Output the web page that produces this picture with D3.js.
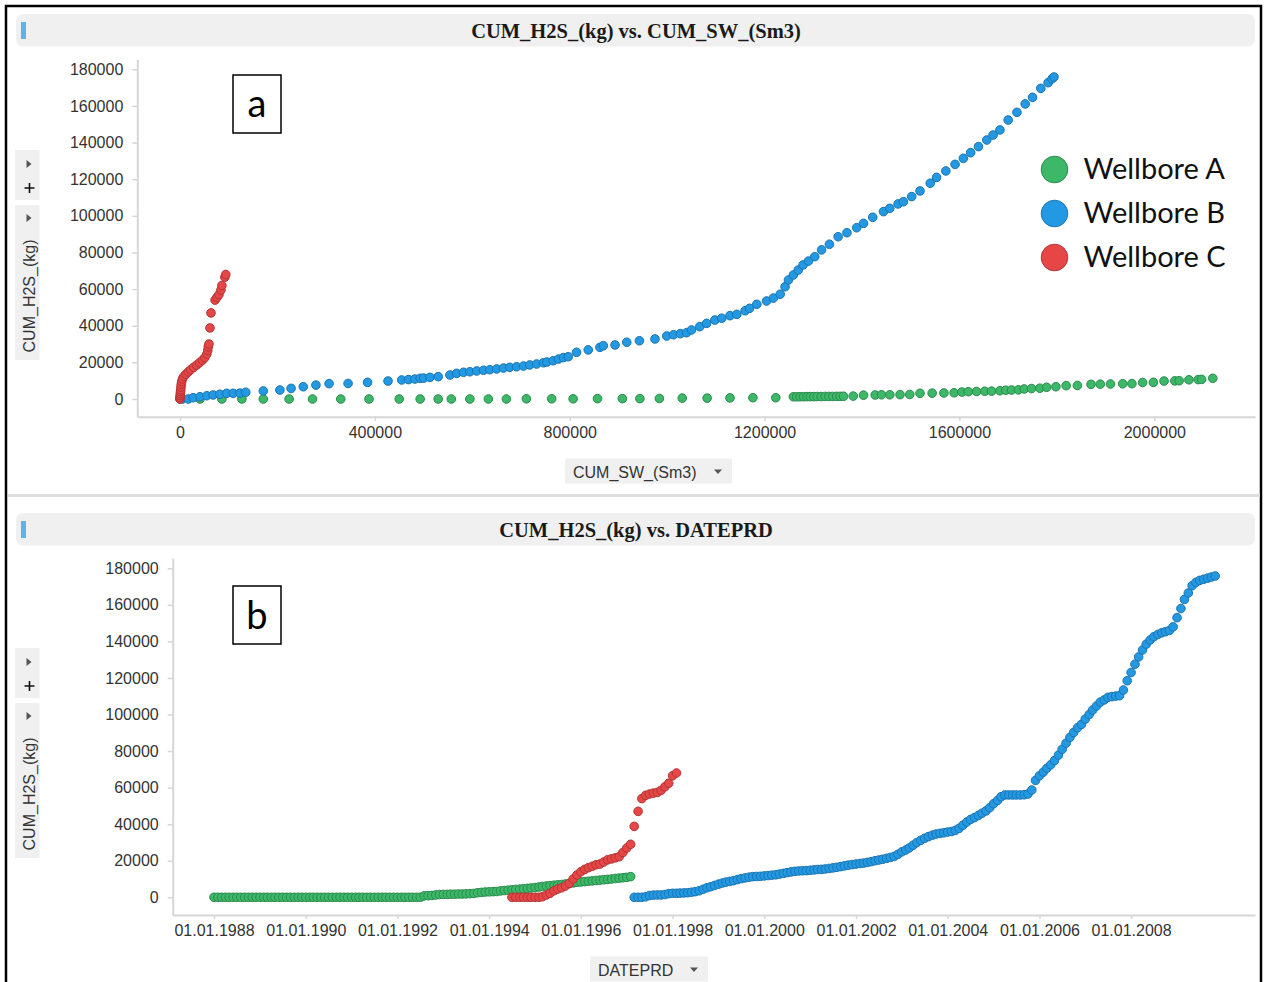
<!DOCTYPE html>
<html>
<head>
<meta charset="utf-8">
<script src="https://cdn.jsdelivr.net/npm/d3@7"></script>
<style>
  html, body { margin: 0; padding: 0; background: #fff; }
  svg { display: block; }
</style>
</head>
<body>
<svg id="chart" width="1264" height="982"></svg>
<script>
// ---- data ----
const wellbores = ['Wellbore A', 'Wellbore B', 'Wellbore C'];
const fills = ['#3cb868', '#2399e3', '#e64646'];
const strokes = ['#2b8a4d', '#1b74b0', '#b23535'];

const title1 = 'CUM_H2S_(kg) vs. CUM_SW_(Sm3)';
const title2 = 'CUM_H2S_(kg) vs. DATEPRD';
const yLabel = 'CUM_H2S_(kg)';
const xLabel1 = 'CUM_SW_(Sm3)';
const xLabel2 = 'DATEPRD';

const yTicks = [0, 20000, 40000, 60000, 80000, 100000, 120000, 140000, 160000, 180000];
const swTicks = [0, 400000, 800000, 1200000, 1600000, 2000000];
const dateTicks = ['1988-01-01', '1990-01-01', '1992-01-01', '1994-01-01', '1996-01-01',
                   '1998-01-01', '2000-01-01', '2002-01-01', '2004-01-01', '2006-01-01', '2008-01-01'];

// panel a: [CUM_SW (Sm3), CUM_H2S (kg)]
const swH2sA = [
  [0, 0], [41000, 0], [86000, 0], [127000, 0], [171000, 0], [224000, 0], [272000, 0], [330000, 0],
  [388000, 0], [450000, 0], [493000, 0], [530000, 0], [557000, 0], [595000, 0], [633000, 0],
  [670000, 0], [711000, 100], [763000, 100], [807000, 100], [857000, 200], [908000, 200],
  [944000, 200], [984000, 300], [1031000, 500], [1082000, 500], [1129000, 600], [1176000, 700],
  [1223000, 700], [1259000, 1200], [1266000, 1200], [1273000, 1250], [1280000, 1250],
  [1287000, 1300], [1294000, 1300], [1301000, 1300], [1308000, 1350], [1316000, 1350],
  [1324000, 1400], [1332000, 1400], [1340000, 1400], [1348000, 1450], [1355000, 1450],
  [1362000, 1500], [1382000, 1600], [1403000, 2100], [1427000, 2200], [1440000, 2300],
  [1457000, 2300], [1478000, 2400], [1498000, 2500], [1519000, 3100], [1544000, 3200],
  [1568000, 3300], [1589000, 3400], [1605000, 3800], [1618000, 4000], [1635000, 4100],
  [1652000, 4200], [1666000, 4300], [1683000, 4500], [1695000, 4800], [1707000, 4900],
  [1721000, 5000], [1733000, 5500], [1748000, 5700], [1765000, 5900], [1779000, 6400],
  [1798000, 6700], [1819000, 7300], [1842000, 7400], [1870000, 8000], [1889000, 8100],
  [1910000, 8200], [1935000, 8300], [1954000, 8400], [1976000, 9000], [1998000, 9100],
  [2020000, 9800], [2042000, 9900], [2051000, 10000], [2071000, 10500], [2090000, 10600],
  [2097000, 10700], [2120000, 11300]
];
const swH2sB = [
  [5000, 0], [17000, 0], [27000, 700], [41000, 1250], [55000, 1800], [68000, 2200], [82000, 2600],
  [96000, 3100], [109000, 3100], [123000, 3200], [135000, 3700], [171000, 4400], [205000, 4900],
  [228000, 5800], [253000, 6700], [279000, 7600], [306000, 8400], [345000, 8500], [385000, 9100],
  [427000, 9800], [455000, 10400], [469000, 10600], [482000, 10900], [493000, 11300],
  [500000, 11400], [513000, 11800], [530000, 12200], [554000, 13100], [568000, 14000],
  [582000, 14600], [595000, 14900], [609000, 15300], [623000, 15700], [636000, 16000],
  [650000, 16400], [664000, 16900], [677000, 17300], [691000, 17600], [705000, 18000],
  [718000, 18600], [732000, 19100], [746000, 19800], [753000, 20200], [766000, 20900],
  [777000, 21800], [787000, 22600], [797000, 23100], [814000, 25500], [838000, 26800],
  [862000, 28200], [869000, 29100], [893000, 29500], [917000, 31000], [943000, 31800],
  [975000, 32800], [999000, 34400], [1013000, 35100], [1027000, 35700], [1040000, 36200],
  [1050000, 37700], [1067000, 39500], [1081000, 41300], [1098000, 43100], [1112000, 44100],
  [1129000, 45500], [1143000, 46200], [1160000, 48200], [1169000, 49500], [1184000, 51700],
  [1204000, 53500], [1218000, 55100], [1232000, 57200], [1242000, 61300], [1249000, 65000],
  [1259000, 67700], [1269000, 70400], [1279000, 73200], [1290000, 75300], [1303000, 77700],
  [1317000, 81400], [1333000, 84500], [1351000, 88600], [1369000, 90800], [1389000, 93500],
  [1403000, 95900], [1422000, 99200], [1444000, 102300], [1457000, 104100], [1474000, 106500],
  [1485000, 107700], [1502000, 110500], [1519000, 113600], [1540000, 117800], [1553000, 121000],
  [1572000, 124500], [1591000, 128100], [1608000, 131400], [1623000, 134500], [1639000, 137800],
  [1656000, 141400], [1669000, 144100], [1683000, 146900], [1700000, 152300], [1718000, 156500],
  [1735000, 161100], [1750000, 164700], [1767000, 169600], [1782000, 172700], [1790000, 174800],
  [1794000, 175800]
];
const swH2sC = [
  [0, 0], [0, 1000], [500, 2000], [800, 3000], [1000, 4000], [1500, 5000], [2000, 6500],
  [2500, 8000], [3500, 9500], [5000, 11000], [8000, 12300], [12000, 13500], [17000, 14800],
  [22000, 16000], [28000, 17300], [34000, 18500], [40000, 19800], [46000, 21200], [51000, 22600],
  [55000, 24500], [57000, 26500], [58000, 28500], [59500, 30000], [61500, 38800], [63600, 47000],
  [72000, 54000], [76000, 55500], [80000, 57000], [84000, 59500], [86000, 62000], [92000, 66500],
  [94000, 68000]
];

// panel b: monthly CUM_H2S (kg), first month given, one value per month
const firstMonthA = '1988-01-01';
const h2sMonthlyA = [
  0, 0, 0, 0, 0, 0, 0, 0, 0, 0, 0, 0,
  0, 0, 0, 0, 0, 0, 0, 0, 0, 0, 0, 0,
  0, 0, 0, 0, 0, 0, 0, 0, 0, 0, 0, 0,
  0, 0, 0, 0, 0, 0, 0, 0, 0, 0, 0, 0,
  0, 0, 0, 0, 0, 0, 0, 800, 900, 1000, 1300, 1500,
  1600, 1600, 1700, 1700, 1800, 1800, 1900, 2000, 2100, 2500, 2700, 2900,
  3000, 3100, 3200, 3500, 3700, 3900, 4100, 4300, 4500, 4700, 4900, 5100,
  5300, 5600, 5900, 6200, 6400, 6600, 6800, 7000, 7300, 7600, 7900, 8200,
  8400, 8600, 8800, 9000, 9200, 9400, 9600, 9800, 10000, 10300, 10500, 10700,
  10900, 11300
];
const firstMonthB = '1997-03-01';
const h2sMonthlyB = [
  0, 0, 0, 300, 1000, 1200, 1300, 1300, 1500, 2000,
  2200, 2200, 2300, 2400, 2500, 2800, 3100, 3600, 4400, 5200, 5800, 6500,
  7200, 7800, 8300, 8700, 9100, 9700, 10200, 10600, 11000, 11300, 11400, 11500,
  11700, 11900, 12100, 12300, 12700, 13100, 13500, 13900, 14200, 14400, 14500, 14600,
  14800, 15000, 15200, 15300, 15500, 15800, 16100, 16400, 16800, 17200, 17600, 17900,
  18200, 18500, 18700, 19100, 19500, 20000, 20400, 20800, 21300, 21800, 22400, 23500,
  24900, 25900, 27000, 28500, 30000, 31200, 32300, 33200, 34000, 34600, 35000, 35300,
  35700, 36000, 36600, 37700, 39400, 41200, 42600, 43600, 44800, 46000, 47300, 49000,
  51200, 53000, 55000, 56000, 56000, 56000, 56000, 56000, 56100, 56500, 58700, 64000,
  66500, 68500, 70600, 72500, 74800, 77800, 81000, 84300, 87500, 90200, 92800, 94600,
  97500, 100000, 102500, 104700, 106800, 108000, 109400, 109800, 110100, 110300, 113400, 118500,
  123000, 127500, 131500, 135300, 138500, 140800, 142600, 143800, 144700, 145300, 146000, 148000,
  153000, 158000, 163000, 166500, 170500, 172300, 173400, 174000, 174600, 175200, 175800
];
const firstMonthC = '1994-07-01';
const h2sMonthlyC = [
  0, 0, 0, 0, 0, 0,
  0, 0, 300, 1260, 2200, 3600, 4500, 5200, 6200, 7600, 10000, 12200,
  14000, 15300, 16200, 17000, 17800, 18200, 19300, 20500, 21000, 21600, 22200, 24500,
  27000, 29000, 38800, 47000, 54000, 55800, 56500, 57000, 57400, 58500, 60500, 62400,
  66500, 68000
];

// ---- drawing ----
const parseDate = d3.timeParse('%Y-%m-%d');
const svg = d3.select('#chart');
const SANS = '"Liberation Sans", Arial, sans-serif';
const LABEL_FONT = 'Lato, "Open Sans", sans-serif';
const GRAY = '#f0f0f0';
const AXIS = '#d6d6d6';

function monthly(first, values) {
  const start = parseDate(first);
  return values.map((v, i) => [d3.timeMonth.offset(start, i), v]);
}

function header(y, title) {
  svg.append('rect').attr('x', 16).attr('y', y).attr('width', 1239).attr('height', 32.5)
    .attr('rx', 7).attr('fill', GRAY);
  svg.append('rect').attr('x', 21).attr('y', y + 8).attr('width', 5).attr('height', 17)
    .attr('fill', '#5ab4ee');
  svg.append('text').attr('x', 636).attr('y', y + 23.5).attr('text-anchor', 'middle')
    .attr('font-family', '"Liberation Serif", "Times New Roman", serif')
    .attr('font-weight', 'bold').attr('font-size', 20.5).attr('fill', '#1a1a1a')
    .text(title);
}

function arrowRight(cx, cy) {
  svg.append('path').attr('d', `M${cx - 2.5},${cy - 4}L${cx + 2.5},${cy}L${cx - 2.5},${cy + 4}Z`)
    .attr('fill', '#555');
}

function sideControls(top, labelCenter) {
  svg.append('rect').attr('x', 15).attr('y', top).attr('width', 24.5).attr('height', 50).attr('fill', GRAY);
  arrowRight(29, top + 14);
  svg.append('path').attr('d', `M${24.5},${top + 38}h10M${29.5},${top + 33}v10`)
    .attr('stroke', '#111').attr('stroke-width', 1.6);
  svg.append('rect').attr('x', 15).attr('y', top + 55).attr('width', 24.5).attr('height', 155).attr('fill', GRAY);
  arrowRight(29, top + 68);
  svg.append('text').attr('transform', `translate(34.5,${labelCenter}) rotate(-90)`)
    .attr('text-anchor', 'middle').attr('font-family', SANS).attr('font-size', 16)
    .attr('fill', '#333').text(yLabel);
}

function xLabelBox(x, y, w, label) {
  svg.append('rect').attr('x', x).attr('y', y).attr('width', w).attr('height', 25).attr('fill', GRAY);
  svg.append('text').attr('x', x + 8).attr('y', y + 19).attr('font-family', SANS)
    .attr('font-size', 16).attr('fill', '#333').text(label);
  const ax = x + w - 14, ay = y + 13;
  svg.append('path').attr('d', `M${ax - 4},${ay - 2}L${ax + 4},${ay - 2}L${ax},${ay + 2.5}Z`).attr('fill', '#555');
}

function letterBox(x, y, letter, baseline) {
  svg.append('rect').attr('x', x).attr('y', y).attr('width', 48).attr('height', 58)
    .attr('fill', '#fff').attr('stroke', '#000').attr('stroke-width', 1.5);
  svg.append('text').attr('x', x + 24).attr('y', baseline).attr('text-anchor', 'middle')
    .attr('font-family', LABEL_FONT).attr('font-size', 38).attr('fill', '#000').text(letter);
}

function styleAxis(g) {
  g.attr('font-family', SANS).attr('font-size', 16);
  g.select('.domain').attr('stroke', AXIS).attr('stroke-width', 2);
  g.selectAll('.tick line').attr('stroke', AXIS).attr('stroke-width', 1.5);
  g.selectAll('.tick text').attr('fill', '#333');
}

function dots(layer, data, x, y, i) {
  layer.append('g').selectAll('circle').data(data).join('circle')
    .attr('cx', d => x(d[0])).attr('cy', d => y(d[1])).attr('r', 4.3)
    .attr('fill', fills[i]).attr('stroke', strokes[i]).attr('stroke-width', 1);
}

// outer frame and divider
svg.append('rect').attr('x', 6).attr('y', 6).attr('width', 1255).attr('height', 990)
  .attr('fill', 'none').attr('stroke', '#000').attr('stroke-width', 2.5);
svg.append('rect').attr('x', 8).attr('y', 494).attr('width', 1252).attr('height', 3).attr('fill', '#dedede');

// ---- panel a ----
header(14, title1);
sideControls(150, 296);
xLabelBox(565, 458.5, 167, xLabel1);

const xA = d3.scaleLinear().domain([-87650, 2206650]).range([137.3, 1255]);
const yA = d3.scaleLinear().domain([-9660, 185460]).range([416.7, 59.3]);

svg.append('g').attr('transform', 'translate(0,416.7)')
  .call(d3.axisBottom(xA).tickValues(swTicks).tickFormat(d3.format('d')).tickSize(4).tickPadding(6).tickSizeOuter(0))
  .call(styleAxis);
svg.append('g').attr('transform', 'translate(137.3,0)')
  .call(d3.axisLeft(yA).tickValues(yTicks).tickFormat(d3.format('d')).tickSize(5).tickPadding(9).tickSizeOuter(0))
  .call(styleAxis);

const layerA = svg.append('g');
[swH2sA, swH2sB, swH2sC].forEach((s, i) => dots(layerA, s, xA, yA, i));
letterBox(233, 75, 'a', 117);

// legend
const legend = svg.append('g').attr('transform', 'translate(1054.5,169.5)');
const item = legend.selectAll('g').data(wellbores).join('g')
  .attr('transform', (d, i) => `translate(0,${i * 44})`);
item.append('circle').attr('r', 13.3).attr('fill', (d, i) => fills[i])
  .attr('stroke', (d, i) => strokes[i]).attr('stroke-width', 1);
item.append('text').attr('x', 29).attr('y', 9.5).attr('font-family', LABEL_FONT)
  .attr('font-size', 29).attr('fill', '#111').text(d => d);

// ---- panel b ----
header(513, title2);
sideControls(648, 794);
xLabelBox(590, 956.5, 118, xLabel2);

const xB = d3.scaleTime()
  .domain([parseDate('1987-02-06'), parseDate('2010-09-14')]).range([172.7, 1255]);
const yB = d3.scaleLinear().domain([-9680, 185470]).range([915, 558.3]);

svg.append('g').attr('transform', 'translate(0,915)')
  .call(d3.axisBottom(xB).tickValues(dateTicks.map(parseDate)).tickFormat(d3.timeFormat('%d.%m.%Y'))
    .tickSize(4).tickPadding(6).tickSizeOuter(0))
  .call(styleAxis);
svg.append('g').attr('transform', 'translate(172.7,0)')
  .call(d3.axisLeft(yB).tickValues(yTicks).tickFormat(d3.format('d')).tickSize(5).tickPadding(9).tickSizeOuter(0))
  .call(styleAxis);

const layerB = svg.append('g');
[monthly(firstMonthA, h2sMonthlyA), monthly(firstMonthB, h2sMonthlyB), monthly(firstMonthC, h2sMonthlyC)]
  .forEach((s, i) => dots(layerB, s, xB, yB, i));
letterBox(233, 586, 'b', 628.5);
</script>
</body>
</html>
